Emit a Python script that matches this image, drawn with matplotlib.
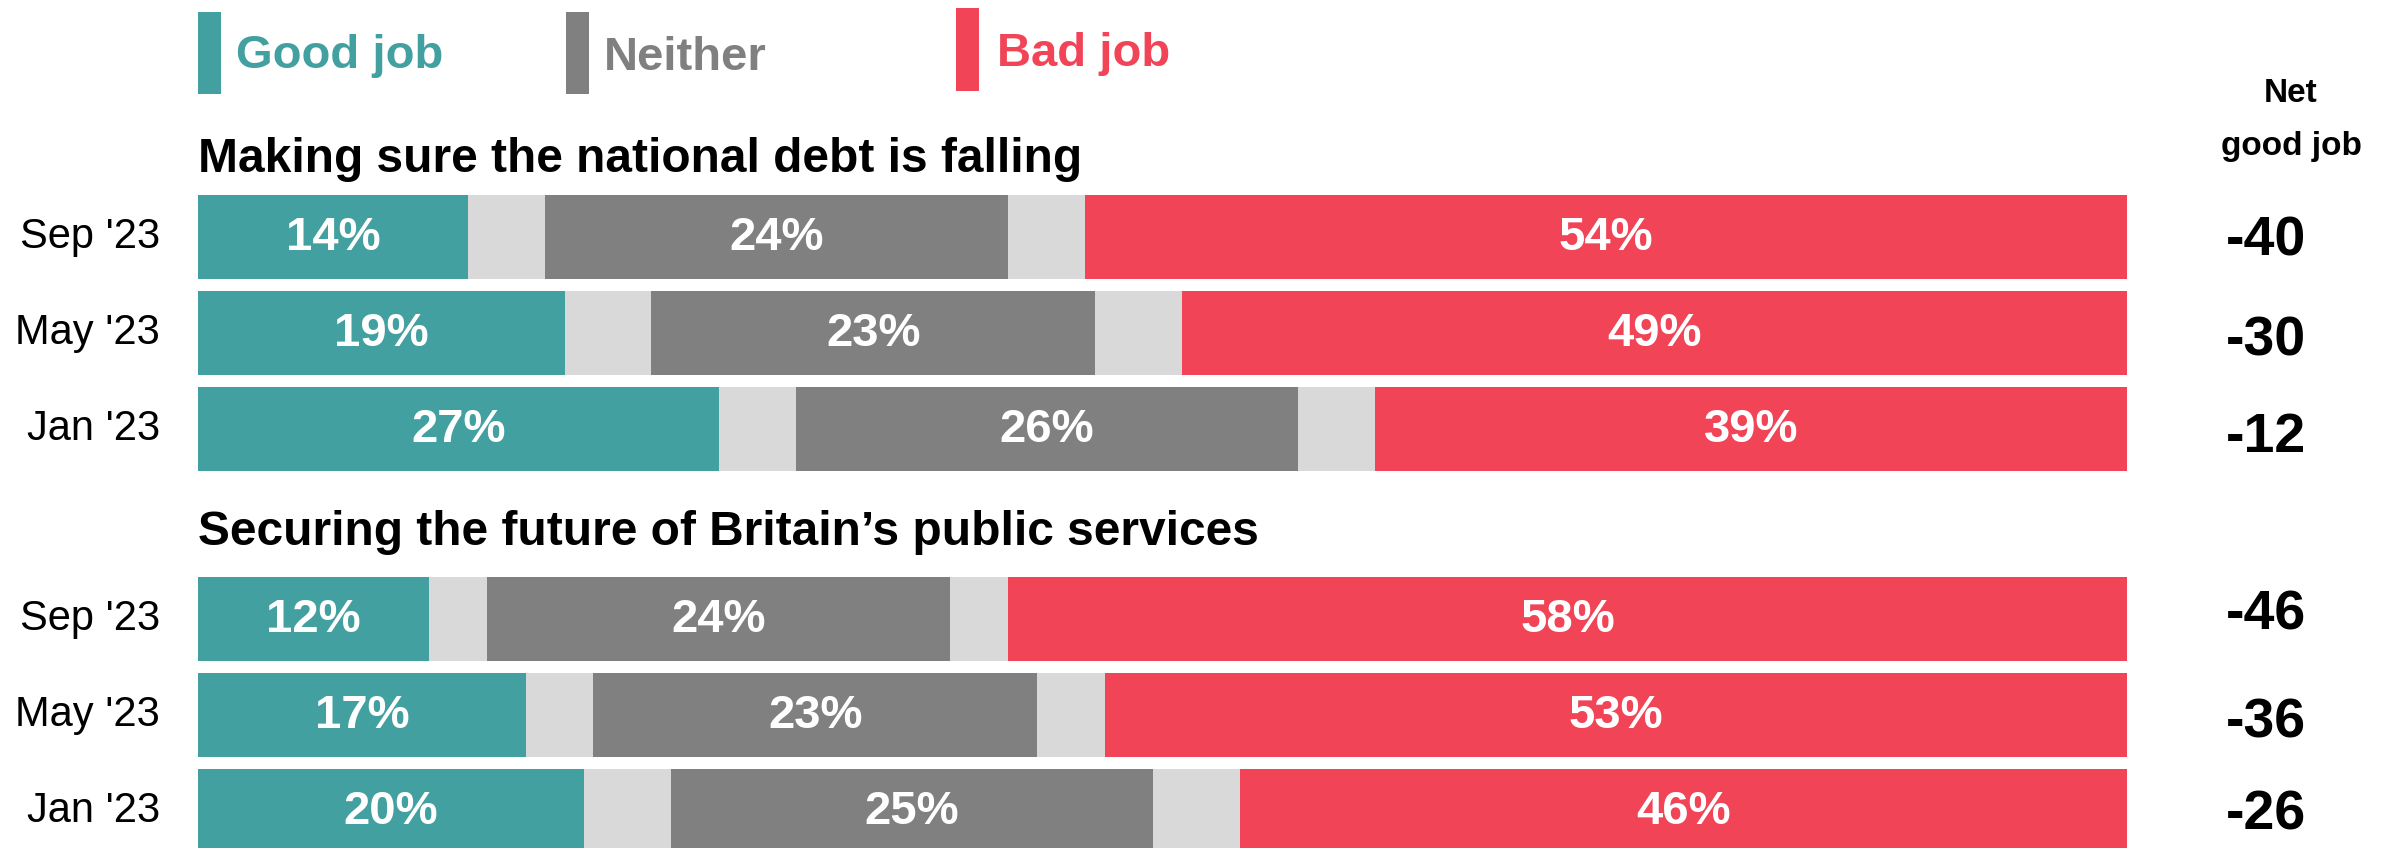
import matplotlib
matplotlib.use("Agg")
import matplotlib.pyplot as plt

plt.rcParams['font.family'] = ['Liberation Sans', 'DejaVu Sans']

# ---- data ----
groups = ["Making sure the national debt is falling",
          "Securing the future of Britain\u2019s public services"]
periods = ["Sep '23", "May '23", "Jan '23"]
good = [[14, 19, 27], [12, 17, 20]]
neither = [[24, 23, 26], [24, 23, 25]]
bad = [[54, 49, 39], [58, 53, 46]]
legend_labels = ["Good job", "Neither", "Bad job"]
net_header = "Net\ngood job"

# ---- style ----
C_GOOD = "#43A0A0"
C_NEITHER = "#808080"
C_DK = "#D9D9D9"
C_BAD = "#F14456"

W, H = 2386, 848
fig = plt.figure(figsize=(W / 100, H / 100), dpi=100)
x0, x1 = 198, 2127
ax = fig.add_axes([x0 / W, 0, (x1 - x0) / W, 1])
ax.set_xlim(0, 100)
ax.set_ylim(H, 0)
ax.axis("off")

px = (x1 - x0) / 100.0  # pixels per percent
def xp(p):  # pixel x -> data x
    return (p - x0) / px

bar_h = 84
pitch = 96
first_top = 195
group_extra = 94
title_off = [-35.5, -44.5]
net_off = [[4, 8, 9], [-4, 8, 4]]

for g in range(len(groups)):
    top_g = first_top + g * (3 * pitch + group_extra)
    ax.text(0, top_g + title_off[g], groups[g], fontsize=34.5, fontweight="bold",
            ha="left", va="center", color="black")
    for i in range(len(periods)):
        yc = top_g + i * pitch + bar_h / 2
        gd, nt, bd = good[g][i], neither[g][i], bad[g][i]
        dk = (100 - gd - nt - bd) / 2.0
        segs = [(gd, C_GOOD, True), (dk, C_DK, False), (nt, C_NEITHER, True),
                (dk, C_DK, False), (bd, C_BAD, True)]
        left = 0
        for val, col, lab in segs:
            ax.barh(yc, val, left=left, height=bar_h, color=col, linewidth=0)
            if lab:
                ax.text(left + val / 2, yc + 1, f"{val}%", color="white",
                        fontsize=34, fontweight="bold", ha="center", va="center")
            left += val
        ax.text(xp(160), yc, periods[i], fontsize=30, ha="right", va="center",
                color="black", clip_on=False)
        ax.text(xp(2266), yc + net_off[g][i], f"{gd - bd}", fontsize=40,
                fontweight="bold", ha="center", va="center", color="black",
                clip_on=False)

# legend
leg_bars = [(198, 12, 94, C_GOOD), (566, 12, 94, C_NEITHER), (956, 8, 91, C_BAD)]
leg_text_x = [236, 604, 997]
leg_text_y = [56, 58, 54]
for (bx, by0, by1, col), lab, tx, ty in zip(leg_bars, legend_labels, leg_text_x, leg_text_y):
    ax.bar(xp(bx), by1 - by0, bottom=by0, width=23 / px, align="edge",
           color=col, linewidth=0, clip_on=False)
    ax.text(xp(tx), ty, lab, color=col, fontsize=34, fontweight="bold",
            ha="left", va="center", clip_on=False)

ax.text(xp(2291), 120, net_header, fontsize=24, fontweight="bold",
        ha="center", va="center", linespacing=1.9, clip_on=False)

fig.savefig("out.png", dpi=100)
